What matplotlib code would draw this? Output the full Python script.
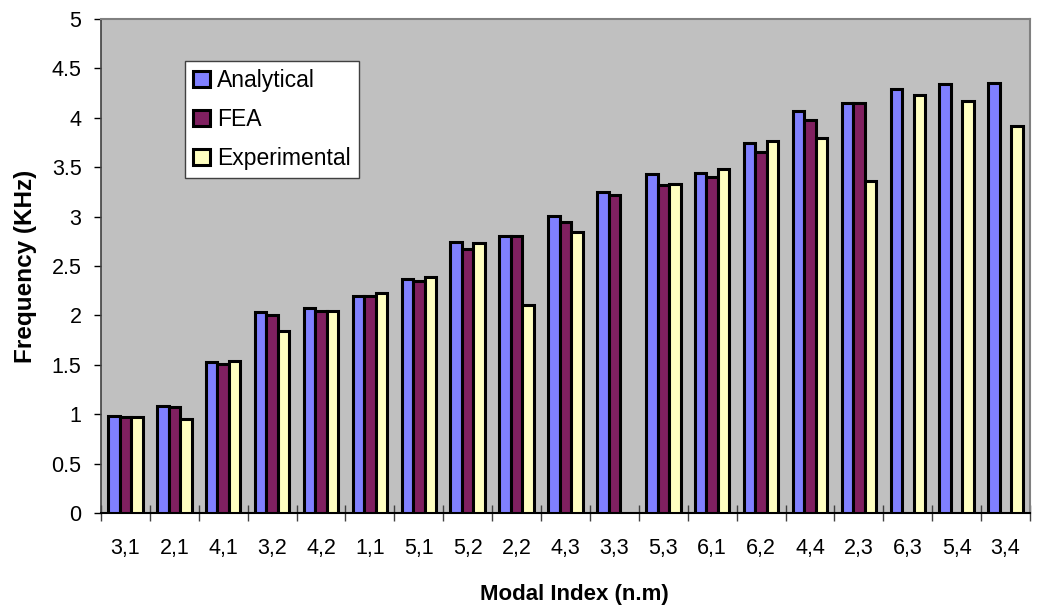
import numpy as np
import matplotlib
matplotlib.use("Agg")
import matplotlib.pyplot as plt

plt.rcParams['font.family'] = ['Liberation Sans', 'DejaVu Sans']

modes = ["3,1", "2,1", "4,1", "3,2", "4,2", "1,1", "5,1", "5,2", "2,2", "4,3",
         "3,3", "5,3", "6,1", "6,2", "4,4", "2,3", "6,3", "5,4", "3,4"]
analytical = [0.98, 1.08, 1.53, 2.03, 2.08, 2.20, 2.37, 2.74, 2.80, 3.01,
              3.25, 3.43, 3.44, 3.74, 4.07, 4.15, 4.29, 4.34, 4.35]
fea = [0.97, 1.07, 1.51, 2.00, 2.04, 2.20, 2.35, 2.67, 2.80, 2.95,
       3.22, 3.32, 3.40, 3.65, 3.98, 4.15, np.nan, np.nan, np.nan]
experimental = [0.97, 0.95, 1.54, 1.84, 2.04, 2.23, 2.39, 2.73, 2.11, 2.84,
                np.nan, 3.33, 3.48, 3.76, 3.80, 3.36, 4.23, 4.17, 3.92]
ytick_labels = ["0", "0.5", "1", "1.5", "2", "2.5", "3", "3.5", "4", "4.5", "5"]

series = [("Analytical", analytical, "#8080FF"),
          ("FEA", fea, "#802060"),
          ("Experimental", experimental, "#FFFFC0")]

fig = plt.figure(figsize=(10.42, 6.08), dpi=100)
ax = fig.add_axes([0.0969, 0.1562, 0.8916, 0.8126])
ax.set_facecolor("#C0C0C0")

x = np.arange(len(modes))
w = 0.235
for i, (name, vals, col) in enumerate(series):
    ax.bar(x + (i - 1) * w, vals, width=w, color=col, edgecolor="black",
           linewidth=2.2, label=name, zorder=3)

ax.set_xlim(-0.5, len(modes) - 0.5)
ax.set_ylim(0, 5)
ax.set_yticks(np.arange(0, 5.01, 0.5))
ax.set_yticklabels(ytick_labels)
ax.set_xticks(x)
ax.set_xticklabels(modes)
ax.set_xticks(np.arange(-0.5, len(modes), 1), minor=True)
ax.tick_params(axis="x", which="major", length=0, pad=18, labelsize=15.5)
ax.tick_params(axis="x", which="minor", direction="inout", length=12, width=1, color="#404040")
ax.tick_params(axis="y", direction="out", length=5, width=1, labelsize=15.5, pad=9)

for side in ("top", "right"):
    ax.spines[side].set_color("#808080")
    ax.spines[side].set_linewidth(1.5)
ax.spines["left"].set_color("#404040")
ax.spines["bottom"].set_color("black")
ax.spines["left"].set_linewidth(1.2)
ax.spines["bottom"].set_linewidth(1.5)

ax.set_xlabel("Modal Index (n.m)", fontsize=16, fontweight="bold")
ax.set_ylabel("Frequency (KHz)", fontsize=17.5, fontweight="bold")
ax.xaxis.set_label_coords(0.51, -0.143)
ax.yaxis.set_label_coords(-0.069, 0.5)

leg = ax.legend(loc="upper left", bbox_to_anchor=(0.0904, 0.915), borderaxespad=0,
                fontsize=16.5, fancybox=False, framealpha=1, edgecolor="#404040",
                handlelength=0.75, handleheight=0.75, handletextpad=0.3,
                labelspacing=0.7, borderpad=0.35)
leg.get_frame().set_linewidth(1.0)

fig.savefig("out.png", dpi=100, facecolor="white")
